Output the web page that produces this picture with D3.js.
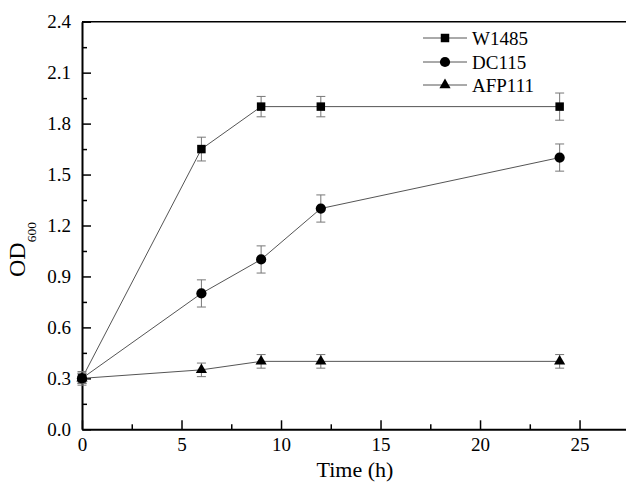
<!DOCTYPE html>
<html>
<head>
<meta charset="utf-8">
<script src="https://cdn.jsdelivr.net/npm/d3@7"></script>
<style>
  html, body { margin: 0; padding: 0; background: #fff; }
  svg { display: block; font-family: "Liberation Serif", "Times New Roman", serif; }
</style>
</head>
<body>
<svg id="chart" width="626" height="484"></svg>
<script>
// Growth time points (h)
const times = [0, 6, 9, 12, 24];

// OD600 means and standard deviations for each strain
const w1485 = [0.30, 1.65, 1.90, 1.90, 1.90];
const w1485Err = [0.03, 0.07, 0.06, 0.06, 0.08];
const dc115 = [0.30, 0.80, 1.00, 1.30, 1.60];
const dc115Err = [0.03, 0.08, 0.08, 0.08, 0.08];
const afp111 = [0.30, 0.35, 0.40, 0.40, 0.40];
const afp111Err = [0.04, 0.04, 0.04, 0.04, 0.04];

const seriesNames = ["W1485", "DC115", "AFP111"];

// Axis ticks
const xTicks = [0, 5, 10, 15, 20, 25];
const xMinorTicks = [2.5, 7.5, 12.5, 17.5, 22.5];
const yTicks = [0, 0.3, 0.6, 0.9, 1.2, 1.5, 1.8, 2.1, 2.4];
const yMinorTicks = [0.15, 0.45, 0.75, 1.05, 1.35, 1.65, 1.95, 2.25];

const svg = d3.select("#chart");

const x = d3.scaleLinear().domain([0, 27.5]).range([82, 629.3]);
const y = d3.scaleLinear().domain([0, 2.4]).range([429.3, 21.7]);

const series = [
  { name: seriesNames[0], values: w1485, err: w1485Err, symbol: d3.symbolSquare, size: 72 },
  { name: seriesNames[1], values: dc115, err: dc115Err, symbol: d3.symbolCircle, size: 82 },
  { name: seriesNames[2], values: afp111, err: afp111Err, symbol: d3.symbolTriangle, size: 54 }
];

// Top frame line
svg.append("line")
  .attr("x1", x(0)).attr("x2", 626)
  .attr("y1", y(2.4)).attr("y2", y(2.4))
  .attr("stroke", "#000").attr("stroke-width", 1.6);

// Minor ticks (inward)
const minorX = d3.axisBottom(x).tickValues(xMinorTicks).tickSizeInner(-5).tickSizeOuter(0).tickFormat("");
svg.append("g").attr("transform", `translate(0,${y(0)})`).call(minorX)
  .call(g => g.select(".domain").remove())
  .call(g => g.selectAll(".tick line").attr("stroke-width", 1.5));

const minorY = d3.axisLeft(y).tickValues(yMinorTicks).tickSizeInner(-5).tickSizeOuter(0).tickFormat("");
svg.append("g").attr("transform", `translate(${x(0)},0)`).call(minorY)
  .call(g => g.select(".domain").remove())
  .call(g => g.selectAll(".tick line").attr("stroke-width", 1.5));

// Major axes
const xAxis = d3.axisBottom(x).tickValues(xTicks).tickSizeInner(-9).tickSizeOuter(0)
  .tickPadding(8).tickFormat(d3.format("d"));
svg.append("g").attr("transform", `translate(0,${y(0)})`).call(xAxis)
  .call(g => g.select(".domain").attr("stroke-width", 2))
  .call(g => g.selectAll(".tick line").attr("stroke-width", 1.5))
  .call(g => g.selectAll("text").attr("font-size", 19).attr("font-family", "Liberation Serif").attr("fill", "#000"));

const yAxis = d3.axisLeft(y).tickValues(yTicks).tickSizeInner(-9).tickSizeOuter(0)
  .tickPadding(11).tickFormat(d3.format(".1f"));
svg.append("g").attr("transform", `translate(${x(0)},0)`).call(yAxis)
  .call(g => g.select(".domain").attr("stroke-width", 2))
  .call(g => g.selectAll(".tick line").attr("stroke-width", 1.5))
  .call(g => g.selectAll("text").attr("font-size", 19).attr("font-family", "Liberation Serif").attr("fill", "#000"));

// Connecting lines
const line = d3.line().x((d, i) => x(times[i])).y(d => y(d));
series.forEach(s => {
  svg.append("path")
    .attr("d", line(s.values))
    .attr("fill", "none")
    .attr("stroke", "#555")
    .attr("stroke-width", 1);
});

// Error bars
const cap = 4.5;
series.forEach(s => {
  const g = svg.append("g").attr("stroke", "#777").attr("stroke-width", 1);
  s.values.forEach((v, i) => {
    const cx = x(times[i]);
    const top = y(v + s.err[i]);
    const bot = y(v - s.err[i]);
    g.append("line").attr("x1", cx).attr("x2", cx).attr("y1", top).attr("y2", bot);
    g.append("line").attr("x1", cx - cap).attr("x2", cx + cap).attr("y1", top).attr("y2", top);
    g.append("line").attr("x1", cx - cap).attr("x2", cx + cap).attr("y1", bot).attr("y2", bot);
  });
});

// Markers
series.forEach(s => {
  const sym = d3.symbol().type(s.symbol).size(s.size);
  svg.append("g").selectAll("path")
    .data(s.values)
    .join("path")
    .attr("d", sym)
    .attr("transform", (d, i) => `translate(${x(times[i])},${y(d)})`)
    .attr("fill", "#000");
});

// Legend
const legend = svg.append("g");
const legendRows = [38, 62, 85];
series.forEach((s, i) => {
  const ly = legendRows[i];
  legend.append("line")
    .attr("x1", 423).attr("x2", 467).attr("y1", ly).attr("y2", ly)
    .attr("stroke", "#555").attr("stroke-width", 1);
  legend.append("path")
    .attr("d", d3.symbol().type(s.symbol).size(s.size)())
    .attr("transform", `translate(445,${ly})`)
    .attr("fill", "#000");
  legend.append("text")
    .attr("x", 472).attr("y", ly + 6.5)
    .attr("font-size", 19)
    .attr("fill", "#000")
    .text(s.name);
});

// Axis titles
svg.append("text")
  .attr("x", 355).attr("y", 477)
  .attr("text-anchor", "middle")
  .attr("font-size", 22)
  .attr("fill", "#000")
  .text("Time (h)");

const yTitle = svg.append("text")
  .attr("transform", "translate(25,277) rotate(-90)")
  .attr("text-anchor", "start")
  .attr("font-size", 24)
  .attr("fill", "#000");
yTitle.append("tspan").text("OD");
yTitle.append("tspan").attr("font-size", 13.5).attr("dy", 10.5).text("600");
</script>
</body>
</html>
